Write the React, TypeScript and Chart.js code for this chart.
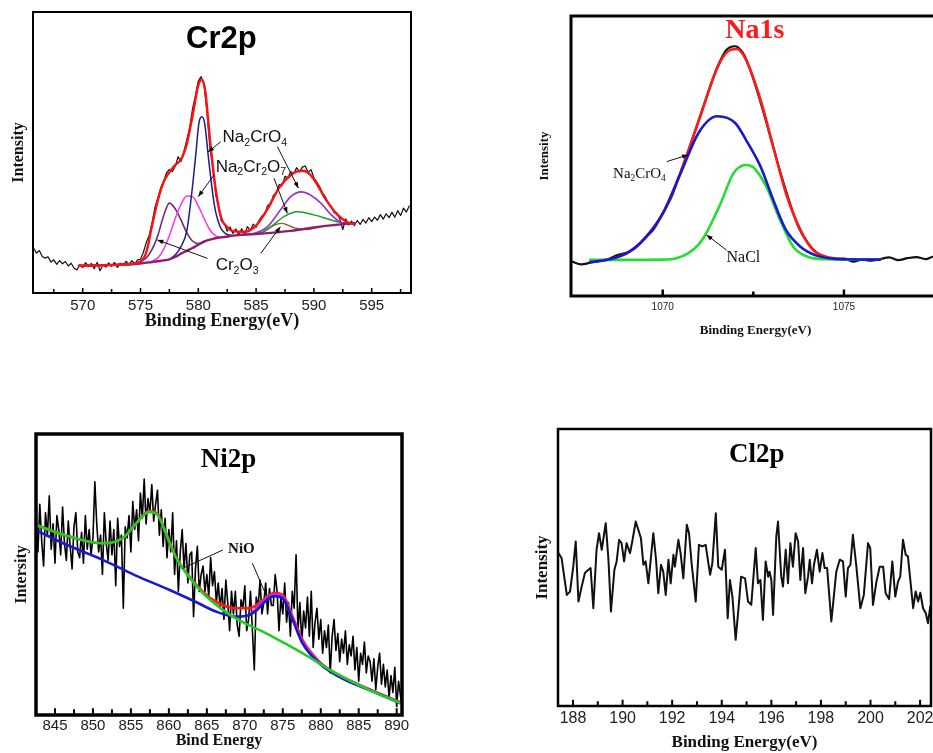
import React, { useEffect, useRef } from 'react';
import { Chart, registerables } from 'chart.js';

Chart.register(...registerables);

const SANS = "'Liberation Sans', Arial, sans-serif";
const SERIF = "'Liberation Serif', 'Times New Roman', serif";

// ---------------- Cr2p ----------------
const crTicks = [570, 575, 580, 585, 590, 595];
const crMinorTicks = [567.5, 572.5, 577.5, 582.5, 587.5, 592.5, 597.5];
const crRawStart = 565.75;
const crRawStep = 0.25;
const crRaw = [
  16.0, 14.2, 15.1, 13.0, 12.4, 12.9, 11.0, 11.8, 10.2, 11.5, 10.4, 11.2, 9.6, 10.6, 8.9, 8.2,
  10.1, 9.0, 10.8, 9.4, 10.5, 8.6, 10.9, 7.9, 10.0, 9.2, 10.7, 9.5, 10.9, 9.1, 10.6, 9.8,
  11.3, 10.0, 11.5, 10.4, 11.8, 12.0, 14.5, 18.0, 20.5, 25.0, 30.5, 33.8, 37.5, 39.6, 42.8, 44.0,
  43.2, 45.0, 48.5, 46.8, 50.2, 54.5, 58.8, 65.5, 70.2, 75.5, 77.0, 73.8, 64.5, 52.0, 44.5, 35.2,
  30.6, 25.5, 24.8, 22.0, 23.5, 21.2, 22.8, 20.6, 22.9, 20.8, 23.6, 22.2, 24.5, 23.4, 25.8, 27.4,
  28.0, 31.2, 31.5, 34.8, 35.5, 38.6, 38.2, 41.5, 41.0, 43.2, 42.4, 44.6, 43.1, 44.8, 45.2, 43.0,
  43.9, 41.0, 39.5, 37.8, 35.6, 34.2, 31.8, 30.9, 28.6, 28.5, 26.2, 22.6, 26.4, 24.2, 25.6, 24.0,
  25.8, 24.4, 26.2, 24.9, 26.8, 25.4, 27.0, 25.9, 27.9, 26.3, 28.2, 26.8, 28.7, 27.0, 29.3, 27.6,
  30.2, 28.8, 31.0,
];
const crEnvelopeE = [569.7, 571, 572.5, 574, 575, 575.5, 576, 576.5, 577, 577.5, 578, 578.5, 579, 579.5, 580, 580.3, 580.6, 581, 581.5, 582, 582.5, 583, 584, 585, 586, 587, 588, 588.5, 589, 589.5, 590, 591, 592, 593, 593.5];
const crEnvelopeV = [9.7, 9.8, 10.0, 10.3, 11.2, 14.5, 24.0, 33.0, 39.5, 43.0, 45.5, 47.5, 53.0, 63.0, 74.0, 76.0, 72.0, 55.0, 37.0, 26.5, 23.5, 22.0, 21.8, 24.0, 30.0, 37.5, 42.0, 43.2, 43.5, 42.8, 40.5, 33.5, 28.0, 25.0, 24.6];
const crBaseE = [569.7, 571, 573, 574.5, 575.5, 576, 576.5, 577, 577.5, 578, 578.5, 579, 579.5, 580, 580.5, 581, 581.5, 582, 582.5, 583, 584, 585, 586, 587, 588, 589, 590, 591, 592, 593, 593.5];
const crBaseV = [9.7, 9.8, 10.0, 10.3, 10.8, 11.0, 11.3, 11.6, 12.0, 12.8, 14.0, 15.0, 16.0, 17.2, 18.3, 19.0, 19.5, 19.8, 20.1, 20.4, 20.8, 21.0, 21.3, 21.7, 22.1, 22.7, 23.3, 23.9, 24.3, 24.7, 24.8];
const crCr2O3aE = [574.5, 575.5, 576, 576.5, 577, 577.5, 578, 578.5, 579, 579.5, 580, 580.5];
const crCr2O3aV = [10.3, 12.5, 15.5, 20.5, 27.5, 32.0, 30.0, 26.0, 21.5, 18.5, 17.6, 18.4];
const crCr2O7aE = [574.5, 575.5, 576, 576.5, 577, 577.5, 578, 578.5, 579, 579.5, 580, 580.5, 581, 581.5, 582];
const crCr2O7aV = [10.3, 10.8, 11.3, 12.5, 15.5, 20.5, 26.5, 31.5, 34.5, 34.3, 31.0, 26.5, 22.5, 20.3, 19.9];
const crCrO4aE = [577.5, 578, 578.5, 579, 579.5, 579.8, 580.05, 580.3, 580.55, 580.9, 581.4, 581.9, 582.4, 583];
const crCrO4aV = [12.0, 13.5, 16.5, 22.0, 38.0, 50.0, 60.4, 62.7, 60.4, 47.3, 31.0, 23.5, 21.0, 20.4];
const crCrO4bE = [583.5, 584.8, 586, 587.1, 588, 588.9, 589.7, 590.6, 591.5, 592.3, 593.2, 593.5];
const crCrO4bV = [20.6, 21.2, 23.6, 29.5, 34.3, 36.0, 34.9, 32.0, 27.8, 25.2, 24.7, 24.8];
const crCr2O7bE = [584.5, 585.5, 586.3, 587.4, 588.6, 590, 591.5, 592.6, 593.5];
const crCr2O7bV = [20.9, 21.6, 23.6, 27.2, 28.9, 27.8, 26.0, 24.9, 24.8];
const crCr2O3bE = [584.5, 585.7, 586.5, 587.2, 588.3, 589.4, 590.5];
const crCr2O3bV = [20.8, 21.8, 24.0, 24.8, 23.2, 22.6, 23.6];

// ---------------- Na1s ----------------
const naTicks = [1070, 1075];
const naMinorTicks = [1072.5];
const naRawStart = 1067.5;
const naRawStep = 0.25;
const naRaw = [
  12.3, 11.3, 11.9, 12.6, 13.2, 14.6, 15.4, 17.2, 20.6, 23.8, 29.5, 35.6, 44.5, 53.5, 63.0, 72.5,
  81.5, 87.8, 89.2, 86.0, 77.5, 67.0, 55.5, 44.0, 33.5, 24.5, 19.0, 15.5, 14.0, 13.2, 13.4, 12.3,
  13.0, 12.6, 13.2, 13.8, 12.8, 13.5, 13.9, 13.2, 14.2, 13.5,
];
const naEnvelopeE = [1068, 1068.5, 1069, 1069.5, 1070, 1070.5, 1071, 1071.5, 1071.8, 1072.05, 1072.3, 1072.7, 1073.05, 1073.4, 1073.8, 1074.15, 1074.5, 1075, 1076];
const naEnvelopeV = [12.1, 13.0, 15.2, 20.5, 29.3, 44.3, 62.8, 81.3, 87.4, 88.2, 84.3, 70.0, 53.3, 36.7, 23.6, 16.4, 14.0, 13.2, 13.0];
const naCrO4E = [1068, 1068.5, 1069, 1069.5, 1070, 1070.5, 1071, 1071.5, 1072, 1072.3, 1072.7, 1073.05, 1073.4, 1073.8, 1074.2, 1074.6, 1075, 1076];
const naCrO4V = [12.1, 13.0, 15.2, 20.5, 29.5, 44.0, 58.5, 64.2, 61.8, 55.7, 46.2, 34.3, 23.6, 17.6, 14.6, 13.5, 13.1, 13.0];
const naClE = [1068, 1069, 1070, 1070.4, 1070.7, 1071, 1071.2, 1071.6, 1071.95, 1072.3, 1072.5, 1072.86, 1073.24, 1073.6, 1074, 1074.5, 1075, 1076];
const naClV = [12.9, 12.9, 13.0, 13.6, 15.2, 18.5, 22.4, 33.1, 43.8, 46.8, 46.0, 39.0, 27.1, 17.6, 14.0, 13.1, 13.0, 13.0];

// ---------------- Ni2p ----------------
const niTicks = [845, 850, 855, 860, 865, 870, 875, 880, 885, 890];
const niMinorTicks = [847.5, 852.5, 857.5, 862.5, 867.5, 872.5, 877.5, 882.5, 887.5];
const niRawStart = 842.5;
const niRawStep = 0.25;
const niRaw = [
  70, 58, 75, 62, 53, 72, 64, 78,
  59, 68, 54, 71, 66, 57, 74, 61,
  55, 69, 60, 52, 67, 72, 58, 56,
  65, 54, 71, 59, 66, 57, 63, 83,
  68, 58, 64, 50, 72, 61, 55, 69,
  57, 66, 46, 70, 60, 64, 38, 67,
  63, 71, 58, 76, 66, 73, 62, 79,
  70, 84, 68, 77, 72, 82, 69, 75,
  80, 64, 73, 60, 70, 56, 66, 58,
  72, 50, 62, 44, 58, 66, 52, 61,
  47, 57, 58, 35, 52, 60, 44, 50,
  53, 44, 50, 42, 56, 46, 51, 40,
  47, 38, 45, 34, 48, 40, 30, 44,
  36, 44, 32, 28, 41, 38, 46, 30,
  34, 44, 30, 16, 42, 38, 48, 36,
  40, 47, 36, 45, 39, 39, 50, 44,
  30, 42, 36, 47, 33, 40, 28, 44,
  38, 57, 30, 40, 26, 37, 31, 42,
  28, 44, 24, 33, 38, 27, 34, 22,
  30, 24, 32, 15, 28, 34, 23, 29,
  19, 27, 22, 30, 18, 25, 21, 28,
  16, 24, 12, 22, 18, 26, 15, 21,
  19, 12, 20, 9, 17, 22, 11, 18,
  10, 16, 6, 14, 8, 17, 3, 12,
  7, 2,
];
const niEnvelopeE = [842.5, 846.9, 851.3, 853.9, 855.7, 857.4, 858.5, 859.6, 860.9, 862.3, 864.5, 866.2, 868.8, 870.6, 872.4, 873.9, 875, 876.3, 877.6, 879.8, 882, 886.4, 890.7];
const niEnvelopeV = [67.6, 63.5, 61.1, 62.9, 68.2, 72.6, 71.6, 64.9, 56.5, 50.6, 43.8, 40.3, 38.0, 38.0, 40.9, 43.5, 42.7, 35.0, 26.7, 19.0, 14.8, 9.2, 4.3];
const niBackE = [842.5, 846, 851.3, 855.5, 860.1, 863.5, 866.2, 868.8, 870.6, 871.6, 872.4, 873.2, 873.9, 875, 876.3, 877.6, 879.8, 882, 884, 886.4, 888.5, 890.7];
const niBackV = [65.8, 61.2, 55.2, 49.8, 44.5, 40.3, 36.8, 35.0, 35.6, 37.4, 39.7, 41.6, 42.3, 41.5, 33.8, 25.5, 18.4, 14.2, 11.5, 8.9, 6.5, 4.0];
const niMainE = [842.5, 846.9, 851.3, 853.9, 855.7, 857.4, 858.5, 859.6, 860.9, 862.3, 864.5, 867.1, 868.8, 873.2, 877.6, 882, 886.4, 890.7];
const niMainV = [67.6, 63.5, 61.1, 62.9, 68.2, 72.3, 71.2, 64.7, 56.3, 50.4, 43.3, 37.4, 34.4, 28.5, 22.0, 14.8, 8.9, 4.0];
const niSatE = [871, 872.4, 873.9, 875, 876.3, 877.6, 879.8, 882, 886.4, 890.7];
const niSatV = [36.5, 40.5, 43.0, 42.2, 34.5, 26.2, 18.8, 14.6, 9.1, 4.2];

// ---------------- Cl2p ----------------
const clTicks = [188, 190, 192, 194, 196, 198, 200, 202];
const clMinorTicks = [189, 191, 193, 195, 197, 199, 201];
const clEnergy = [
  187.41, 187.54, 187.75, 187.88, 188.01, 188.11, 188.22, 188.35, 188.48, 188.62, 188.71, 188.82, 188.95, 189.05, 189.16, 189.32,
  189.43, 189.53, 189.67, 189.76, 189.86, 189.96, 190.06, 190.16, 190.30, 190.39, 190.53, 190.74, 190.84, 190.93, 191.04, 191.24,
  191.35, 191.44, 191.55, 191.64, 191.74, 191.85, 191.94, 192.05, 192.11, 192.25, 192.34, 192.45, 192.59, 192.68, 192.79, 192.95,
  193.08, 193.22, 193.35, 193.53, 193.62, 193.76, 193.86, 194.00, 194.13, 194.24, 194.33, 194.43, 194.56, 194.67, 194.78, 194.94,
  195.06, 195.19, 195.37, 195.46, 195.56, 195.66, 195.77, 195.87, 195.93, 196.00, 196.07, 196.20, 196.27, 196.40, 196.47, 196.58,
  196.67, 196.77, 196.87, 196.98, 197.08, 197.17, 197.28, 197.37, 197.48, 197.55, 197.64, 197.72, 197.84, 197.95, 198.06, 198.15,
  198.25, 198.42, 198.62, 198.76, 198.89, 199.00, 199.09, 199.19, 199.29, 199.43, 199.59, 199.73, 199.90, 199.99, 200.10, 200.24,
  200.37, 200.51, 200.61, 200.75, 200.88, 201.00, 201.11, 201.20, 201.31, 201.42, 201.51, 201.72, 201.82, 201.92, 202.01, 202.12,
  202.23, 202.32, 202.41, 202.52,
];
const clIntensity = [
  55.2, 53.4, 40.1, 41.3, 50.3, 59.4, 37.7, 43.1, 48.0, 49.2, 49.8, 35.3, 56.4, 62.4, 56.4, 66.0,
  52.8, 34.1, 49.2, 52.2, 60.0, 58.8, 52.2, 58.8, 55.2, 59.4, 66.6, 60.6, 51.0, 52.2, 44.3, 62.4,
  52.8, 40.7, 51.0, 48.5, 40.1, 52.8, 44.3, 54.6, 50.3, 60.0, 55.2, 46.1, 65.4, 62.4, 51.0, 37.7,
  58.2, 57.6, 58.2, 47.4, 51.6, 69.6, 50.3, 49.2, 56.4, 31.7, 45.5, 39.5, 23.9, 34.7, 46.7, 46.1,
  37.7, 36.5, 57.0, 44.3, 45.5, 31.1, 52.2, 46.7, 48.5, 45.5, 32.9, 61.2, 66.6, 46.7, 43.1, 56.4,
  44.3, 58.8, 50.3, 62.4, 59.4, 45.5, 57.0, 40.7, 46.7, 52.8, 44.3, 51.0, 56.4, 48.5, 55.2, 49.8,
  49.8, 30.5, 48.5, 52.8, 52.2, 39.5, 49.8, 51.0, 61.8, 50.3, 35.3, 40.1, 58.8, 57.0, 36.5, 44.9,
  50.3, 50.3, 40.7, 38.6, 52.2, 39.5, 44.9, 46.7, 60.0, 54.6, 54.0, 35.3, 41.3, 37.7, 40.9, 35.3,
  33.5, 29.9, 35.9, 35.9,
];

// ---------------- helpers ----------------
const gridOf = (start: number, step: number, n: number) =>
  Array.from({ length: n }, (_, i) => Math.round((start + i * step) * 1000) / 1000);

function series(xs: number[], ys: number[], color: string, width: number, smooth: boolean) {
  return {
    data: xs.map((x, i) => ({ x, y: ys[i] })),
    borderColor: color,
    backgroundColor: color,
    borderWidth: width,
    pointRadius: 0,
    pointHoverRadius: 0,
    fill: false,
    tension: 0,
    cubicInterpolationMode: smooth ? 'monotone' : 'default',
    borderJoinStyle: 'round',
    borderCapStyle: 'round',
  };
}

type Label = { text: string; x: number; y: number; size: number; family: string; weight: string; sub: boolean };
type Arrow = { x1: number; y1: number; x2: number; y2: number; head: boolean };

type PanelSpec = {
  key: string;
  box: { left: number; top: number; width: number; height: number };
  pad: { top: number; right: number; left: number; bottom: number };
  yWidth: number;
  xHeight: number;
  xMin: number;
  xMax: number;
  ticks: number[];
  minor: number[];
  majorLen: number;
  minorLen: number;
  tickWidth: number;
  tickFont: { family: string; size: number };
  tickPad: number;
  xTitle: string;
  xTitleFont: { family: string; size: number; weight: string };
  xTitlePad: number;
  yTitle: string;
  yTitleFont: { family: string; size: number; weight: string };
  yTitlePad: number;
  frameWidth: number;
  title: { text: string; x: number; y: number; font: string; color: string };
  labels: Label[];
  arrows: Arrow[];
  datasets: any[];
};

function drawRich(ctx: CanvasRenderingContext2D, lb: Label, x: number, y: number) {
  let cx = x;
  ctx.textAlign = 'left';
  ctx.textBaseline = 'alphabetic';
  for (let i = 0; i < lb.text.length; i++) {
    const ch = lb.text[i];
    const isSub = lb.sub && /[0-9]/.test(ch) && i > 0 && /[A-Za-z]/.test(lb.text[i - 1]);
    const s = isSub ? lb.size * 0.62 : lb.size;
    ctx.font = `${lb.weight} ${s}px ${lb.family}`;
    ctx.fillText(ch, cx, isSub ? y + lb.size * 0.22 : y);
    cx += ctx.measureText(ch).width;
  }
}

function drawDecor(chart: any, p: PanelSpec) {
  const { ctx, chartArea: a } = chart;
  const X = (v: number) => chart.scales.x.getPixelForValue(v);
  const Y = (v: number) => chart.scales.y.getPixelForValue(v);
  ctx.save();
  ctx.strokeStyle = '#000';
  ctx.fillStyle = '#000';
  ctx.lineCap = 'butt';
  ctx.lineWidth = p.tickWidth;
  ctx.beginPath();
  for (const t of p.ticks) {
    const px = X(t);
    ctx.moveTo(px, a.bottom);
    ctx.lineTo(px, a.bottom - p.frameWidth / 2 - p.majorLen);
  }
  for (const t of p.minor) {
    const px = X(t);
    ctx.moveTo(px, a.bottom);
    ctx.lineTo(px, a.bottom - p.frameWidth / 2 - p.minorLen);
  }
  ctx.stroke();
  ctx.lineWidth = p.frameWidth;
  ctx.strokeRect(a.left, a.top, a.right - a.left, a.bottom - a.top);

  ctx.font = p.title.font;
  ctx.fillStyle = p.title.color;
  ctx.textAlign = 'center';
  ctx.textBaseline = 'alphabetic';
  ctx.fillText(p.title.text, X(p.title.x), Y(p.title.y));

  ctx.fillStyle = '#000';
  ctx.strokeStyle = '#111';
  ctx.lineWidth = 1;
  for (const ar of p.arrows) {
    const x1 = X(ar.x1), y1 = Y(ar.y1), x2 = X(ar.x2), y2 = Y(ar.y2);
    ctx.beginPath();
    ctx.moveTo(x1, y1);
    ctx.lineTo(x2, y2);
    ctx.stroke();
    if (ar.head) {
      const ang = Math.atan2(y2 - y1, x2 - x1);
      const L = 6, W = 2.3;
      ctx.beginPath();
      ctx.moveTo(x2, y2);
      ctx.lineTo(x2 - L * Math.cos(ang) + W * Math.sin(ang), y2 - L * Math.sin(ang) - W * Math.cos(ang));
      ctx.lineTo(x2 - L * Math.cos(ang) - W * Math.sin(ang), y2 - L * Math.sin(ang) + W * Math.cos(ang));
      ctx.closePath();
      ctx.fill();
    }
  }
  ctx.fillStyle = '#111';
  for (const lb of p.labels) drawRich(ctx, lb, X(lb.x), Y(lb.y));
  ctx.restore();
}

function withOrder(list: any[]) {
  return list.map((d, i) => ({ ...d, order: list.length - i }));
}

// ---------------- panels ----------------
const panels: PanelSpec[] = [
  {
    key: 'cr',
    box: { left: 0, top: 0, width: 440, height: 345 },
    pad: { top: 12, right: 29, left: 0, bottom: 0 },
    yWidth: 33,
    xHeight: 52,
    xMin: 565.7,
    xMax: 598.4,
    ticks: crTicks,
    minor: crMinorTicks,
    majorLen: 4,
    minorLen: 3,
    tickWidth: 1.5,
    tickFont: { family: SANS, size: 15 },
    tickPad: 4,
    xTitle: 'Binding Energy(eV)',
    xTitleFont: { family: SERIF, size: 18, weight: 'bold' },
    xTitlePad: 13,
    yTitle: 'Intensity',
    yTitleFont: { family: SERIF, size: 16, weight: 'bold' },
    yTitlePad: 9,
    frameWidth: 2,
    title: { text: 'Cr2p', x: 582.0, y: 87.2, font: `bold 31px ${SANS}`, color: '#000' },
    labels: [
      { text: 'Na2CrO4', x: 582.1, y: 53.8, size: 17, family: SANS, weight: 'normal', sub: true },
      { text: 'Na2Cr2O7', x: 581.5, y: 43.2, size: 17, family: SANS, weight: 'normal', sub: true },
      { text: 'Cr2O3', x: 581.5, y: 8.2, size: 17, family: SANS, weight: 'normal', sub: true },
    ],
    arrows: [
      { x1: 581.94, y1: 53.8, x2: 580.84, y2: 50.2, head: true },
      { x1: 586.84, y1: 52.1, x2: 588.66, y2: 37.3, head: true },
      { x1: 581.36, y1: 42.0, x2: 580.0, y2: 34.3, head: true },
      { x1: 586.55, y1: 40.8, x2: 587.7, y2: 28.4, head: true },
      { x1: 580.8, y1: 12.3, x2: 576.46, y2: 18.9, head: true },
      { x1: 585.4, y1: 14.1, x2: 587.1, y2: 23.6, head: true },
    ],
    datasets: withOrder([
      series(gridOf(crRawStart, crRawStep, crRaw.length), crRaw, '#111111', 1.2, false),
      series(crCr2O3bE, crCr2O3bV, '#8b5a2b', 1.3, true),
      series(crCr2O7bE, crCr2O7bV, '#1f9a2a', 1.5, true),
      series(crCrO4bE, crCrO4bV, '#9932cc', 1.6, true),
      series(crCr2O3aE, crCr2O3aV, '#6e2a7e', 1.6, true),
      series(crCr2O7aE, crCr2O7aV, '#ff33ee', 1.5, true),
      series(crCrO4aE, crCrO4aV, '#1c1c8c', 1.5, true),
      series(crBaseE, crBaseV, '#8e1f6e', 2.4, true),
      series(crEnvelopeE, crEnvelopeV, '#ff1010', 2.4, true),
    ]),
  },
  {
    key: 'na',
    box: { left: 520, top: 0, width: 430, height: 345 },
    pad: { top: 16, right: 10, left: 0, bottom: 0 },
    yWidth: 51,
    xHeight: 49,
    xMin: 1067.47,
    xMax: 1077.65,
    ticks: naTicks,
    minor: naMinorTicks,
    majorLen: 5,
    minorLen: 3,
    tickWidth: 2.5,
    tickFont: { family: SANS, size: 10 },
    tickPad: 5,
    xTitle: 'Binding Energy(eV)',
    xTitleFont: { family: SERIF, size: 13, weight: 'bold' },
    xTitlePad: 7,
    yTitle: 'Intensity',
    yTitleFont: { family: SERIF, size: 13, weight: 'bold' },
    yTitlePad: 17,
    frameWidth: 3,
    title: { text: 'Na1s', x: 1072.54, y: 92.1, font: `bold 28px ${SERIF}`, color: '#ff1a1a' },
    labels: [
      { text: 'Na2CrO4', x: 1068.63, y: 42.1, size: 15, family: SERIF, weight: 'normal', sub: true },
      { text: 'NaCl', x: 1071.76, y: 12.25, size: 16, family: SERIF, weight: 'normal', sub: false },
    ],
    arrows: [
      { x1: 1070.11, y1: 48.0, x2: 1070.7, y2: 50.4, head: true },
      { x1: 1071.76, y1: 16.4, x2: 1071.21, y2: 21.8, head: true },
    ],
    datasets: withOrder([
      series(gridOf(naRawStart, naRawStep, naRaw.length), naRaw, '#111111', 2.2, true),
      series(naEnvelopeE, naEnvelopeV, '#ff1a1a', 2.6, true),
      series(naClE, naClV, '#22dd33', 2.6, true),
      series(naCrO4E, naCrO4V, '#1a1acc', 2.6, true),
    ]),
  },
  {
    key: 'ni',
    box: { left: 0, top: 420, width: 440, height: 333 },
    pad: { top: 14, right: 38, left: 0, bottom: 0 },
    yWidth: 36,
    xHeight: 38,
    xMin: 842.5,
    xMax: 890.7,
    ticks: niTicks,
    minor: niMinorTicks,
    majorLen: 5,
    minorLen: 4,
    tickWidth: 2,
    tickFont: { family: SANS, size: 15 },
    tickPad: 2,
    xTitle: 'Bind Energy',
    xTitleFont: { family: SERIF, size: 16, weight: 'bold' },
    xTitlePad: 3,
    yTitle: 'Intersity',
    yTitleFont: { family: SERIF, size: 16, weight: 'bold' },
    yTitlePad: 12,
    frameWidth: 3.5,
    title: { text: 'Ni2p', x: 867.85, y: 88.4, font: `bold 27px ${SERIF}`, color: '#000' },
    labels: [
      { text: 'NiO', x: 867.8, y: 57.7, size: 15, family: SERIF, weight: 'bold', sub: false },
    ],
    arrows: [
      { x1: 867.09, y1: 58.7, x2: 861.8, y2: 52.2, head: false },
      { x1: 871.0, y1: 54.0, x2: 872.79, y2: 42.7, head: false },
    ],
    datasets: withOrder([
      series(gridOf(niRawStart, niRawStep, niRaw.length), niRaw, '#000000', 1.6, false),
      series(niEnvelopeE, niEnvelopeV, '#ff1a1a', 2.6, true),
      series(niSatE, niSatV, '#e020e0', 2.4, true),
      series(niBackE, niBackV, '#1a1acc', 2.6, true),
      series(niMainE, niMainV, '#22cc22', 2.6, true),
    ]),
  },
  {
    key: 'cl',
    box: { left: 520, top: 420, width: 430, height: 333 },
    pad: { top: 9, right: 19, left: 0, bottom: 0 },
    yWidth: 38,
    xHeight: 47,
    xMin: 187.395,
    xMax: 202.44,
    ticks: clTicks,
    minor: clMinorTicks,
    majorLen: 5,
    minorLen: 3.5,
    tickWidth: 2,
    tickFont: { family: SANS, size: 16 },
    tickPad: 3,
    xTitle: 'Binding Energy(eV)',
    xTitleFont: { family: SERIF, size: 17, weight: 'bold' },
    xTitlePad: 0,
    yTitle: 'Intensity',
    yTitleFont: { family: SERIF, size: 17, weight: 'bold' },
    yTitlePad: 12,
    frameWidth: 2.5,
    title: { text: 'Cl2p', x: 195.41, y: 88.2, font: `bold 27px ${SERIF}`, color: '#000' },
    labels: [],
    arrows: [],
    datasets: withOrder([
      series(clEnergy, clIntensity, '#111111', 2, false),
    ]),
  },
];

function buildConfig(p: PanelSpec): any {
  const decor = { id: 'decor_' + p.key, afterDraw: (chart: any) => drawDecor(chart, p) };
  return {
    type: 'line',
    data: { datasets: p.datasets },
    options: {
      animation: false,
      responsive: false,
      maintainAspectRatio: false,
      events: [],
      parsing: true,
      layout: { padding: p.pad },
      plugins: { legend: { display: false }, tooltip: { enabled: false }, title: { display: false } },
      scales: {
        x: {
          type: 'linear',
          min: p.xMin,
          max: p.xMax,
          grid: { display: false, drawTicks: false },
          border: { display: false },
          ticks: {
            font: p.tickFont,
            color: '#222',
            padding: p.tickPad,
            autoSkip: false,
            maxRotation: 0,
            minRotation: 0,
            includeBounds: false,
            callback: (v: any) => String(v),
          },
          afterBuildTicks: (s: any) => {
            s.ticks = p.ticks.map((v) => ({ value: v }));
          },
          afterFit: (s: any) => {
            s.height = p.xHeight;
          },
          title: {
            display: true,
            text: p.xTitle,
            font: p.xTitleFont,
            color: '#111',
            padding: { top: 0, bottom: p.xTitlePad },
          },
        },
        y: {
          type: 'linear',
          min: 0,
          max: 100,
          grid: { display: false, drawTicks: false },
          border: { display: false },
          ticks: { display: false },
          afterFit: (s: any) => {
            s.width = p.yWidth;
          },
          title: {
            display: true,
            text: p.yTitle,
            font: p.yTitleFont,
            color: '#111',
            padding: { top: p.yTitlePad, bottom: 0 },
          },
        },
      },
    },
    plugins: [decor],
  };
}

function Panel({ spec }: { spec: PanelSpec }) {
  const ref = useRef<HTMLCanvasElement | null>(null);
  useEffect(() => {
    if (!ref.current) return;
    const chart = new Chart(ref.current, buildConfig(spec));
    return () => chart.destroy();
  }, [spec]);
  return (
    <div
      style={{
        position: 'absolute',
        left: spec.box.left,
        top: spec.box.top,
        width: spec.box.width,
        height: spec.box.height,
      }}
    >
      <canvas
        ref={ref}
        width={spec.box.width}
        height={spec.box.height}
        style={{ display: 'block', width: spec.box.width, height: spec.box.height }}
      />
    </div>
  );
}

export default function App() {
  return (
    <div
      style={{
        position: 'absolute',
        left: 0,
        top: 0,
        width: 933,
        height: 753,
        overflow: 'hidden',
        background: '#fff',
      }}
    >
      {panels.map((p) => (
        <Panel key={p.key} spec={p} />
      ))}
    </div>
  );
}
